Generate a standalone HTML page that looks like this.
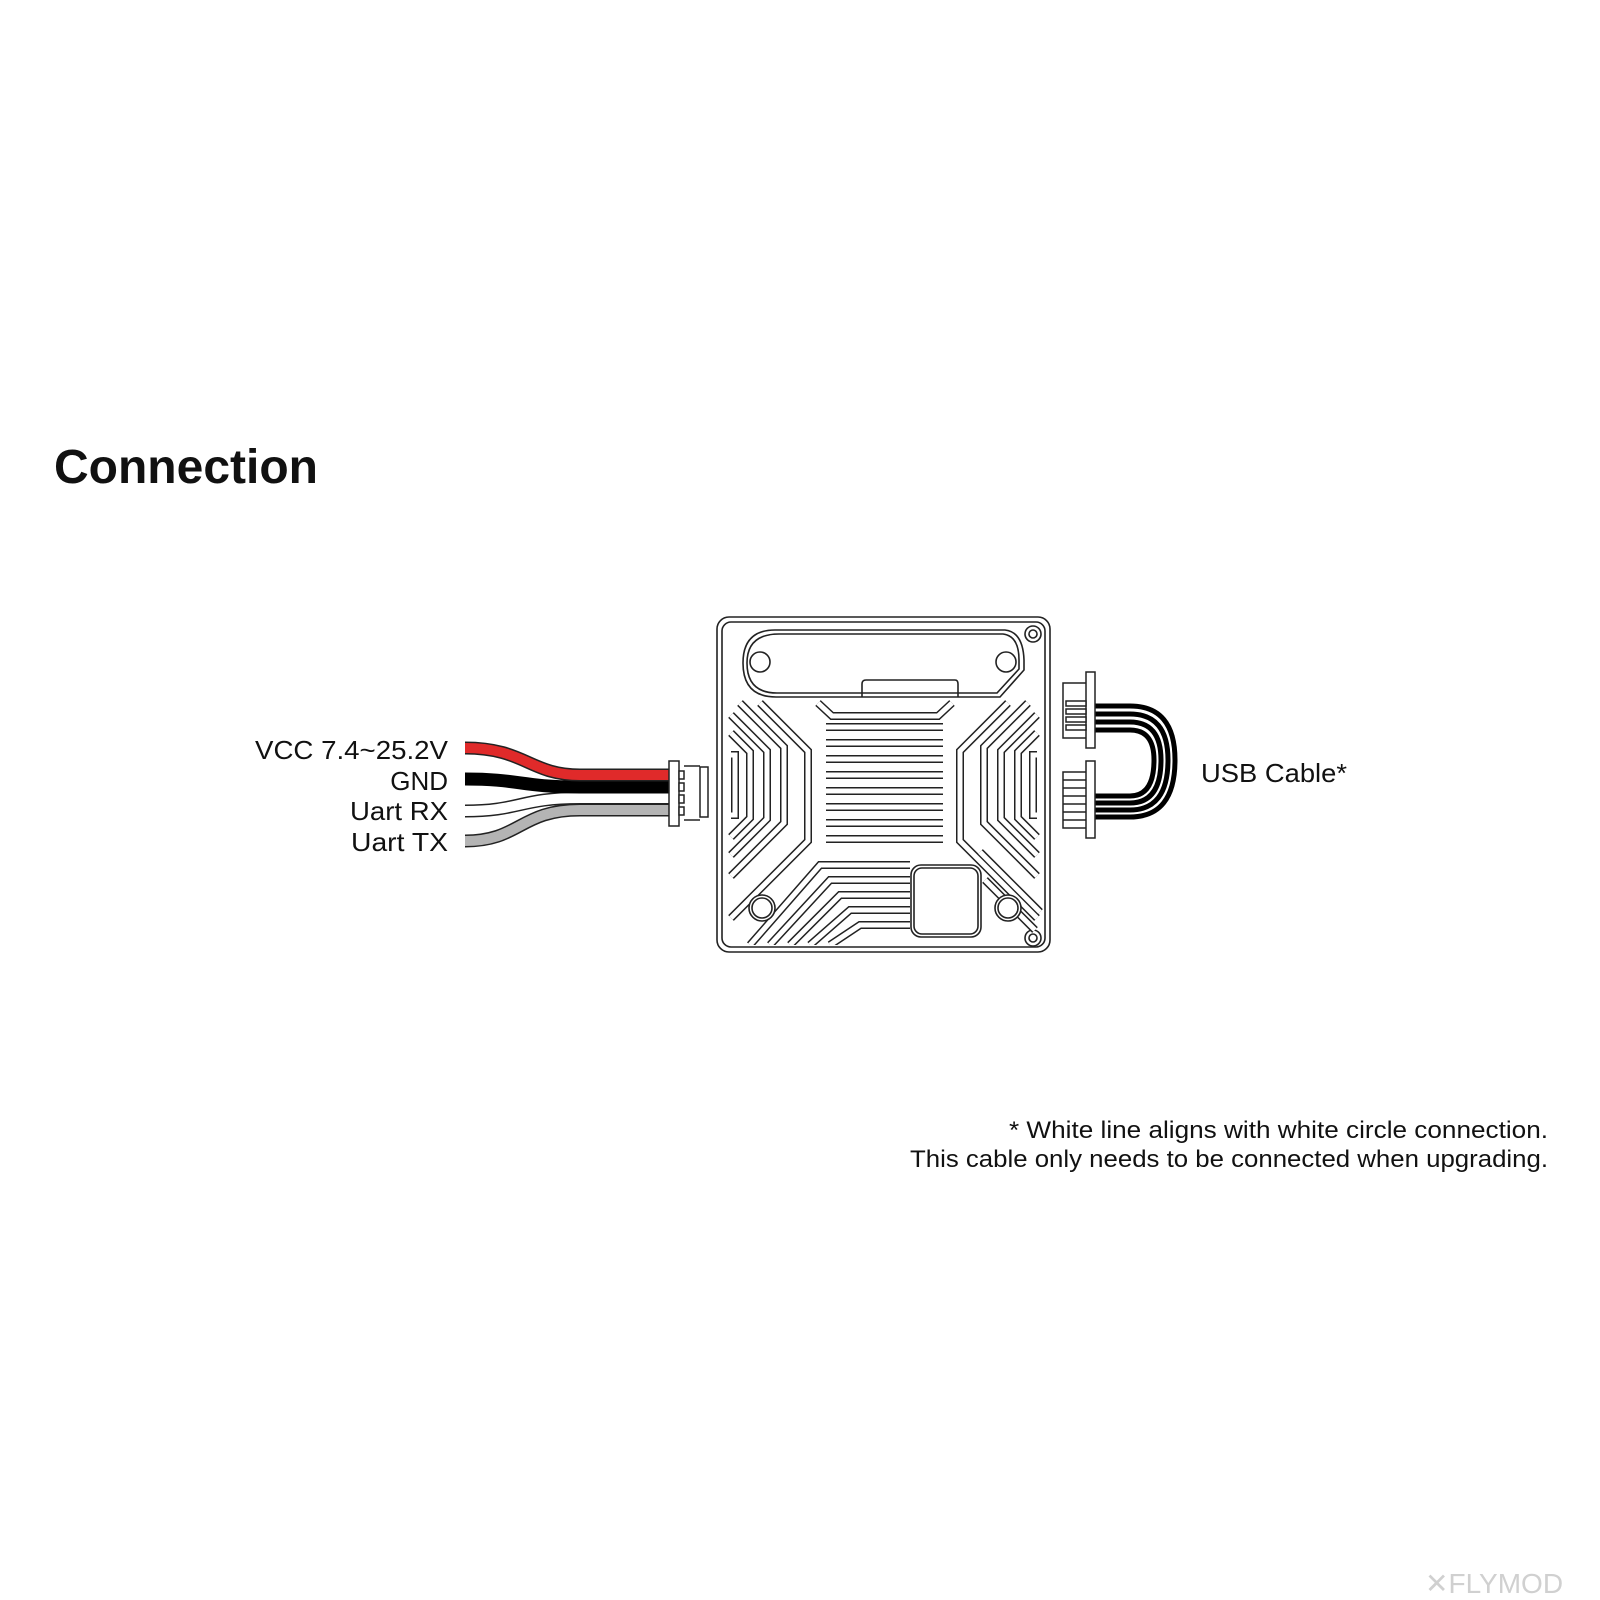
<!DOCTYPE html>
<html><head><meta charset="utf-8"><style>
html,body{margin:0;padding:0;background:#fff}
svg{display:block}
text{font-family:"Liberation Sans",sans-serif;fill:#111}
</style></head><body>
<svg width="1600" height="1600" viewBox="0 0 1600 1600" xmlns="http://www.w3.org/2000/svg">
<defs>
<clipPath id="fin"><rect x="725" y="625" width="318" height="320"/></clipPath>
</defs>
<text x="54" y="483" font-size="48" font-weight="bold" textLength="264" lengthAdjust="spacingAndGlyphs">Connection</text>

<!-- wire labels -->
<g font-size="26" text-anchor="end">
<text x="448" y="759" textLength="193" lengthAdjust="spacingAndGlyphs">VCC 7.4~25.2V</text>
<text x="448" y="790">GND</text>
<text x="448" y="820" textLength="98" lengthAdjust="spacingAndGlyphs">Uart RX</text>
<text x="448" y="851" textLength="97" lengthAdjust="spacingAndGlyphs">Uart TX</text>
</g>

<!-- wires -->
<g fill="none" stroke-linecap="butt">
<path d="M465 841 C520 841 520 810 580 810 L670 810" stroke="#222" stroke-width="13"/>
<path d="M465 841 C520 841 520 810 580 810 L670 810" stroke="#b4b4b4" stroke-width="10"/>
<path d="M465 811 C520 811 520 798 580 798 L670 798" stroke="#222" stroke-width="13"/>
<path d="M465 811 C520 811 520 798 580 798 L670 798" stroke="#fff" stroke-width="10"/>
<path d="M465 779 C520 779 520 787 580 787 L670 787" stroke="#000" stroke-width="13"/>
<path d="M465 748 C525 748 530 775 580 775 L670 775" stroke="#222" stroke-width="13"/>
<path d="M465 748 C525 748 530 775 580 775 L670 775" stroke="#e02a2a" stroke-width="10"/>
</g>
<!-- left connector -->
<g fill="#fff" stroke="#222" stroke-width="1.5">
<rect x="669" y="761" width="10" height="65"/>
<rect x="679" y="771" width="5" height="8"/><rect x="679" y="783" width="5" height="8"/><rect x="679" y="795" width="5" height="8"/><rect x="679" y="807" width="5" height="8"/>
<line x1="684" y1="766" x2="700" y2="766"/><line x1="684" y1="820" x2="700" y2="820"/>
<rect x="700" y="767" width="8" height="50"/>
</g>

<!-- device -->
<g fill="none" stroke="#222" stroke-width="1.6">
<rect x="717" y="617" width="333" height="335" rx="12"/>
<rect x="722" y="622" width="323" height="325" rx="9"/>
<path d="M775 630 L1005 630 Q1023 632 1024 660 L1024 670 L1000 697 L776 697 Q743 697 743 663 Q743 630 775 630 Z"/>
<path d="M779 634 L1003 634 Q1019 636 1019 660 L1019 669 L997 693 L777 693 Q747 693 747 663 Q747 634 779 634 Z"/>
<circle cx="760" cy="662" r="10"/>
<circle cx="1006" cy="662" r="10"/>
<path d="M862 697 L862 684 Q862 680 866 680 L955 680 Q958 680 958 684 L958 697"/>
<circle cx="1033" cy="634" r="8"/><circle cx="1033" cy="634" r="4"/>
<circle cx="1033" cy="938" r="8"/><circle cx="1033" cy="938" r="4"/>
</g>

<!-- fins -->
<g clip-path="url(#fin)" fill="none" stroke-linejoin="miter">
<g stroke="#222" stroke-width="8">
<path d="M826 727 H943 M826 743 H943 M826 759 H943 M826 775 H943 M826 791 H943 M826 807 H943 M826 823 H943 M826 839 H943"/>
<path d="M818 703 L832 716 L938 716 L952 703"/>
<path d="M731 755 L735 755 L735 815 L731 815"/>
<path d="M731 733 L750 752 L750 818 L731 837"/>
<path d="M731 715 L767 751 L767 819 L731 855"/>
<path d="M740 703 L784 747 L784 823 L731 876"/>
<path d="M760 703 L808 751 L808 841 L731 918"/>
<path d="M1037 755 L1033 755 L1033 815 L1037 815"/>
<path d="M1037 733 L1018 752 L1018 818 L1037 837"/>
<path d="M1037 715 L1001 751 L1001 819 L1037 855"/>
<path d="M1028 703 L984 747 L984 823 L1037 876"/>
<path d="M1008 703 L960 751 L960 841 L1037 918"/>
<path d="M750 945 L820 865 L910 865"/>
<path d="M770 945 L830 880 L910 880"/>
<path d="M790 945 L840 895 L910 895"/>
<path d="M810 945 L850 910 L910 910"/>
<path d="M830 945 L860 925 L910 925"/>
<path d="M980 852 L1040 912"/>
<path d="M985 880 L1035 930"/>
</g>
<g stroke="#fff" stroke-width="5">
<path d="M826 727 H943 M826 743 H943 M826 759 H943 M826 775 H943 M826 791 H943 M826 807 H943 M826 823 H943 M826 839 H943"/>
<path d="M818 703 L832 716 L938 716 L952 703"/>
<path d="M731 755 L735 755 L735 815 L731 815"/>
<path d="M731 733 L750 752 L750 818 L731 837"/>
<path d="M731 715 L767 751 L767 819 L731 855"/>
<path d="M740 703 L784 747 L784 823 L731 876"/>
<path d="M760 703 L808 751 L808 841 L731 918"/>
<path d="M1037 755 L1033 755 L1033 815 L1037 815"/>
<path d="M1037 733 L1018 752 L1018 818 L1037 837"/>
<path d="M1037 715 L1001 751 L1001 819 L1037 855"/>
<path d="M1028 703 L984 747 L984 823 L1037 876"/>
<path d="M1008 703 L960 751 L960 841 L1037 918"/>
<path d="M750 945 L820 865 L910 865"/>
<path d="M770 945 L830 880 L910 880"/>
<path d="M790 945 L840 895 L910 895"/>
<path d="M810 945 L850 910 L910 910"/>
<path d="M830 945 L860 925 L910 925"/>
<path d="M980 852 L1040 912"/>
<path d="M985 880 L1035 930"/>
</g>
</g>
<g fill="#fff" stroke="#222" stroke-width="1.6">
<rect x="911" y="865" width="70" height="72" rx="10"/>
<rect x="914" y="868" width="64" height="66" rx="8"/>
<circle cx="762" cy="908" r="13"/><circle cx="762" cy="908" r="10"/>
<circle cx="1008" cy="908" r="13"/><circle cx="1008" cy="908" r="10"/>
</g>

<!-- USB cable -->
<g fill="none" stroke="#000" stroke-width="5">
<path d="M1095 706 L1130 706 Q1175 706 1175 760 Q1175 817 1130 817 L1095 817"/>
<path d="M1095 714 L1130 714 Q1168 714 1168 760 Q1168 810 1130 810 L1095 810"/>
<path d="M1095 722 L1130 722 Q1161 722 1161 760 Q1161 803 1130 803 L1095 803"/>
<path d="M1095 730 L1130 730 Q1154 730 1154 760 Q1154 796 1130 796 L1095 796"/>
</g>
<g fill="#fff" stroke="#222" stroke-width="1.5">
<rect x="1063" y="683" width="25" height="55"/>
<rect x="1086" y="672" width="9" height="76"/>
<rect x="1066" y="701" width="20" height="5"/><rect x="1066" y="709" width="20" height="5"/><rect x="1066" y="717" width="20" height="5"/><rect x="1066" y="725" width="20" height="5"/>
<rect x="1063" y="772" width="25" height="56"/>
<rect x="1086" y="761" width="9" height="77"/>
<path d="M1063 780 H1086 M1063 788 H1086 M1063 796 H1086 M1063 804 H1086 M1063 812 H1086 M1063 820 H1086" fill="none"/>
</g>
<text x="1201" y="782" font-size="26" textLength="146" lengthAdjust="spacingAndGlyphs">USB Cable*</text>

<g font-size="24" text-anchor="end">
<text x="1548" y="1138" textLength="539" lengthAdjust="spacingAndGlyphs">* White line aligns with white circle connection.</text>
<text x="1548" y="1167" textLength="638" lengthAdjust="spacingAndGlyphs">This cable only needs to be connected when upgrading.</text>
</g>
<text x="1425" y="1593" font-size="28" style="fill:#d0d0d0">✕FLYMOD</text>
</svg>
</body></html>
